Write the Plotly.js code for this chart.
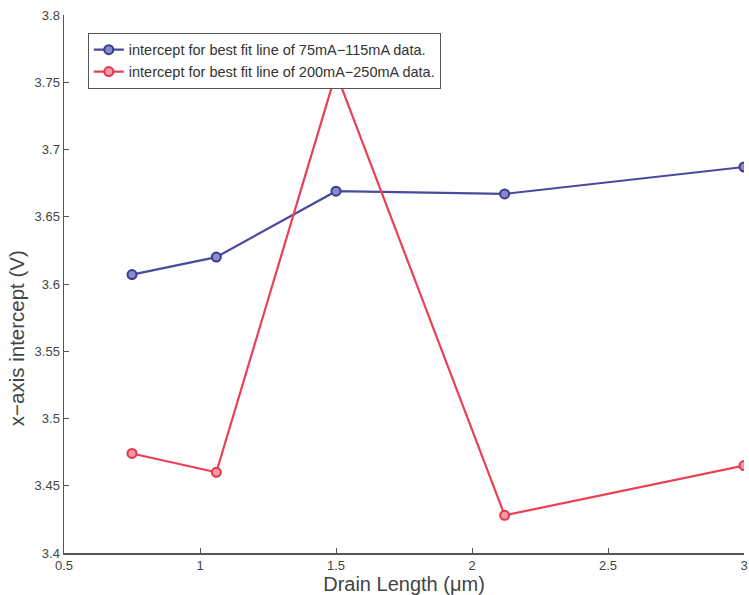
<!DOCTYPE html>
<html>
<head>
<meta charset="utf-8">
<script src="https://cdn.plot.ly/plotly-3.0.1.min.js"></script>
<style>html,body{margin:0;padding:0;background:#fff}#chart{width:749px;height:595px}</style>
</head>
<body>
<div id="chart"></div>
<script>
const drainLength = [0.75, 1.06, 1.5, 2.12, 3.0];
const intercept75to115 = [3.607, 3.620, 3.669, 3.667, 3.687];
const intercept200to250 = [3.474, 3.460, 3.757, 3.428, 3.465];
const seriesNames = [
  "intercept for best fit line of 75mA\u2212115mA data.",
  "intercept for best fit line of 200mA\u2212250mA data."
];
const xTicks = [0.5, 1, 1.5, 2, 2.5, 3];
const yTicks = [3.4, 3.45, 3.5, 3.55, 3.6, 3.65, 3.7, 3.75, 3.8];
const xTitle = "Drain Length (\u03bcm)";
const yTitle = "x\u2212axis intercept (V)";

const font = "Liberation Sans, Arial, sans-serif";
const traces = [
  {x: drainLength, y: intercept75to115, name: seriesNames[0], type: "scatter", mode: "lines+markers",
   line: {color: "#4a4a9c", width: 2.2},
   marker: {symbol: "circle", size: 9, color: "#8a8ac8", line: {color: "#3a3a8e", width: 2}}},
  {x: drainLength, y: intercept200to250, name: seriesNames[1], type: "scatter", mode: "lines+markers",
   line: {color: "#ea4055", width: 2.2},
   marker: {symbol: "circle", size: 9, color: "#f59aa4", line: {color: "#e3354b", width: 2}}}
];
const layout = {
  width: 749, height: 595,
  margin: {l: 64, r: 5, t: 15, b: 42},
  paper_bgcolor: "#fff", plot_bgcolor: "#fff",
  font: {family: font, size: 13, color: "#444"},
  showlegend: true,
  legend: {x: 0.035, y: 0.967, xanchor: "left", yanchor: "top", bgcolor: "#fff",
           bordercolor: "#555", borderwidth: 1, font: {family: font, size: 14.5, color: "#333"},
           tracegroupgap: 0},
  xaxis: {range: [0.5, 3], tickvals: xTicks, ticktext: xTicks.map(String), ticks: "inside", ticklen: 5,
          tickcolor: "#555", showline: true, linecolor: "#555", linewidth: 1.5, showgrid: false, zeroline: false,
          tickfont: {family: font, size: 13, color: "#444"}, ticklabeloverflow: "allow",
          title: {text: xTitle, font: {family: font, size: 20, color: "#444"}, standoff: 0}},
  yaxis: {range: [3.4, 3.8], tickvals: yTicks, ticktext: yTicks.map(String), ticks: "inside", ticklen: 5,
          tickcolor: "#555", showline: true, linecolor: "#555", linewidth: 1.5, showgrid: false, zeroline: false,
          tickfont: {family: font, size: 13, color: "#444"}, ticklabeloverflow: "allow"},
  annotations: [
    {text: yTitle, xref: "paper", yref: "paper", x: -0.07, y: 0.40, xanchor: "center", yanchor: "middle",
     textangle: -90, showarrow: false, font: {family: font, size: 20.5, color: "#444"}}
  ]
};
Plotly.newPlot("chart", traces, layout, {displayModeBar: false, staticPlot: true});
</script>
</body>
</html>
